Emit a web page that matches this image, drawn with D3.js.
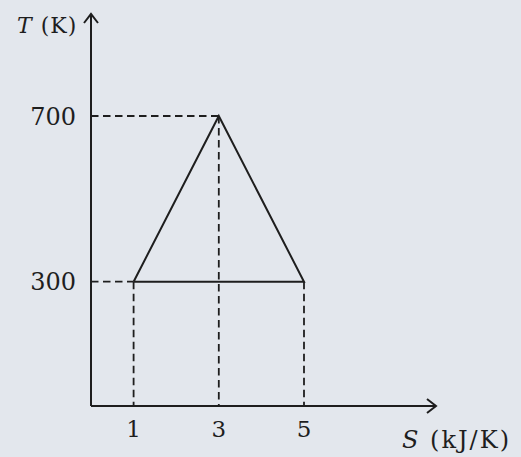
<!DOCTYPE html>
<html><head><meta charset="utf-8">
<script src="https://cdn.jsdelivr.net/npm/d3@7"></script>
<style>html,body{margin:0;padding:0;background:#e3e7ed;}svg{display:block}</style>
</head><body>
<script>
const cycleS = [1, 3, 5, 1];
const cycleT = [300, 700, 300, 300];
const xTicks = [1, 3, 5];
const yTicks = [300, 700];
const xLabel = "S (kJ/K)";
const yLabel = "T (K)";

const W = 521, H = 457;
const svg = d3.select("body").append("svg").attr("width", W).attr("height", H);
svg.append("rect").attr("width", W).attr("height", H).attr("fill", "#e3e7ed");

const x = d3.scaleLinear().domain([0, 5]).range([91, 304]);
const y = d3.scaleLinear().domain([0, 700]).range([406, 116]);
const ink = "#1e1e1e";
const font = "DejaVu Serif, serif";

// axes
svg.append("line").attr("x1", x(0)).attr("x2", 436).attr("y1", y(0)).attr("y2", y(0))
  .attr("stroke", ink).attr("stroke-width", 2);
svg.append("line").attr("x1", x(0)).attr("x2", x(0)).attr("y1", y(0)).attr("y2", 14)
  .attr("stroke", ink).attr("stroke-width", 2);
// arrow heads
svg.append("path").attr("d", `M${436-9},${y(0)-7} L436,${y(0)} L${436-9},${y(0)+7}`)
  .attr("fill", "none").attr("stroke", ink).attr("stroke-width", 2);
svg.append("path").attr("d", `M${x(0)-7},${14+9} L${x(0)},14 L${x(0)+7},${14+9}`)
  .attr("fill", "none").attr("stroke", ink).attr("stroke-width", 2);

// dashed guides
const pts = cycleS.slice(0, 3).map((s, i) => [s, cycleT[i]]);
const dash = "7.5,4.5";
yTicks.forEach(t => {
  const p = pts.find(d => d[1] === t);
  svg.append("line").attr("x1", x(0)).attr("x2", x(p[0])).attr("y1", y(t)).attr("y2", y(t))
    .attr("stroke", ink).attr("stroke-width", 1.8).attr("stroke-dasharray", dash);
});
pts.forEach(p => {
  svg.append("line").attr("x1", x(p[0])).attr("x2", x(p[0])).attr("y1", y(p[1])).attr("y2", y(0))
    .attr("stroke", ink).attr("stroke-width", 1.8).attr("stroke-dasharray", dash);
});

// cycle
const line = d3.line().x(d => x(d)).y((d, i) => y(cycleT[i]));
svg.append("path").attr("d", line(cycleS)).attr("fill", "none")
  .attr("stroke", ink).attr("stroke-width", 2).attr("stroke-linejoin", "miter");

// tick labels
svg.selectAll(".xt").data(xTicks).enter().append("text")
  .attr("x", d => x(d)).attr("y", 437).attr("text-anchor", "middle")
  .attr("font-family", font).attr("font-size", 23).attr("fill", ink).text(d => d);
svg.selectAll(".yt").data(yTicks).enter().append("text")
  .attr("x", 76).attr("y", d => y(d) + 8.5).attr("text-anchor", "end")
  .attr("font-family", font).attr("font-size", 24).attr("fill", ink).text(d => d);

// axis labels
const yl = svg.append("text").attr("x", 17).attr("y", 33).attr("letter-spacing", 1)
  .attr("font-family", font).attr("font-size", 22).attr("fill", ink);
yl.append("tspan").attr("font-style", "italic").text(yLabel.split(" ")[0]);
yl.append("tspan").text(" " + yLabel.split(" ").slice(1).join(" "));
const xl = svg.append("text").attr("x", 402).attr("y", 448).attr("letter-spacing", 2)
  .attr("font-family", font).attr("font-size", 24).attr("fill", ink);
xl.append("tspan").attr("font-style", "italic").text(xLabel.split(" ")[0]);
xl.append("tspan").text(" " + xLabel.split(" ").slice(1).join(" "));
</script>
</body></html>
